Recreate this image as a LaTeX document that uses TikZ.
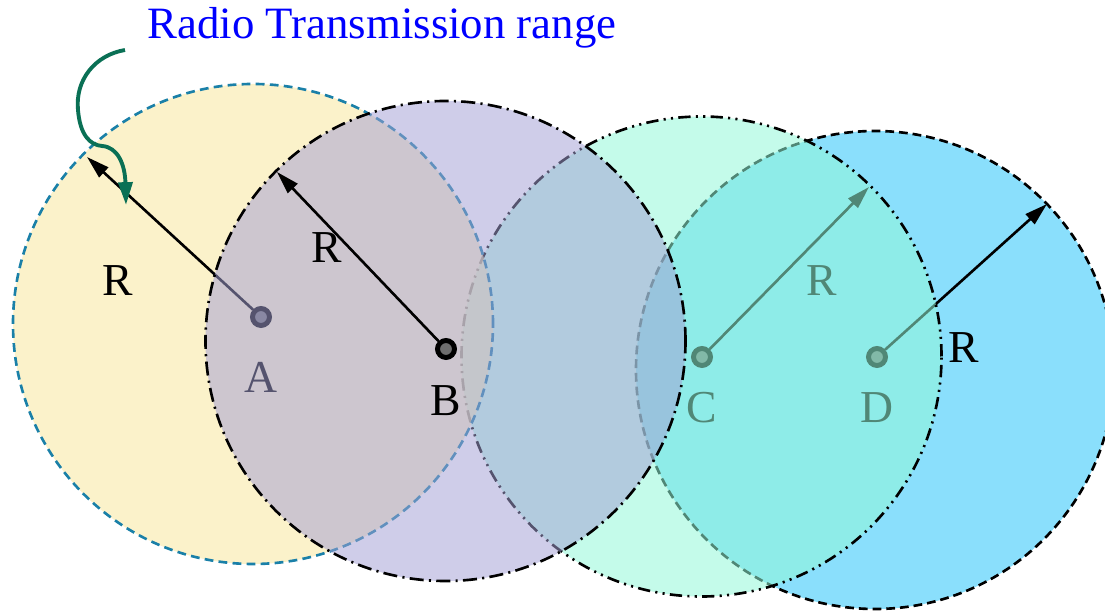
\documentclass[tikz,border=0pt]{standalone}
\usepackage{fontspec}
\setmainfont{Liberation Serif}
\usetikzlibrary{arrows.meta,positioning}

\definecolor{fillA}{RGB}{250,236,179}
\definecolor{fillB}{RGB}{163,160,212}
\definecolor{fillC}{RGB}{147,247,216}
\definecolor{fillD}{RGB}{138,223,252}
\definecolor{edgeA}{RGB}{26,128,168}
\definecolor{hookgreen}{RGB}{10,112,85}

\begin{document}
\begin{tikzpicture}[
    zone/.style={circle, minimum size=9.6cm, inner sep=0pt, line width=1.5pt},
    site/.style={circle, draw=black, fill=black!57, line width=2.8pt, minimum size=0.34cm, inner sep=0pt},
    lbl/.style={font=\fontsize{26}{28}\selectfont, inner sep=0pt},
    rline/.style={-{Triangle[length=13pt,width=7.5pt]}, line width=1.5pt}
]
\useasboundingbox (0,0) rectangle (22.1,-12.22);

% D and C lie at the bottom, C's fill covers their radii
\node[zone, minimum size=9.56cm, draw, dash pattern=on 5pt off 2.8pt, fill=fillD] (zoneD) at (17.5,-7.4) {};
\node[site] (siteD) at (17.54,-7.14) {};
\node[site] (siteC) at (14.04,-7.14) {};
\coordinate (tipD) at (20.94,-4.08);
\coordinate (tipC) at (17.38,-3.74);
\draw[rline] (siteD) -- (tipD);
\draw[rline] (siteC) -- (tipC);
\node[lbl] (nameD) at (17.54,-8.16) {D};
\node[lbl] (nameC) at (14.04,-8.16) {C};
\node[lbl] (lenD) at (19.28,-6.96) {R};
\node[lbl] (lenC) at (16.44,-5.62) {R};
\node[zone, draw, dash pattern=on 7pt off 3pt on 1.2pt off 3pt on 1.2pt off 3pt, fill=fillC, fill opacity=0.55] (zoneC) at (14.03,-7.13) {};

% A
\node[zone, draw=edgeA, dash pattern=on 5pt off 3pt, fill=fillA, fill opacity=0.7] (zoneA) at (5.06,-6.48) {};
\node[site] (siteA) at (5.22,-6.34) {};
\coordinate (tipA) at (1.74,-3.14);
\draw[rline] (siteA) -- (tipA);
\node[lbl] (nameA) at (5.22,-7.54) {A};
\node[lbl] (lenA) at (2.36,-5.62) {R};

% B
\node[zone, draw, dash pattern=on 8pt off 3pt on 1.2pt off 3pt, fill=fillB, fill opacity=0.52] (zoneB) at (8.91,-6.82) {};
\node[site] (siteB) at (8.92,-6.98) {};
\coordinate (tipB) at (5.54,-3.44);
\draw[rline] (siteB) -- (tipB);
\node[lbl] (nameB) at (8.92,-8.02) {B};
\node[lbl] (lenB) at (6.54,-4.96) {R};

% caption and hook
\node[font=\fontsize{25.5}{28}\selectfont, text=blue] (title) at (7.64,-0.56) {Radio Transmission range};
\coordinate (hook) at (2.5,-1.0);
\coordinate (hookend) at (2.52,-4.1);
\draw[hookgreen, line width=2.2pt, -{Triangle[length=13pt,width=8pt]}]
    (hook) .. controls (1.9,-1.1) and (1.5,-1.6) .. (1.56,-2.2)
    .. controls (1.6,-2.7) and (1.8,-2.9) .. (2.04,-2.92)
    .. controls (2.36,-2.94) and (2.5,-3.3) .. (hookend);
\end{tikzpicture}
\end{document}
